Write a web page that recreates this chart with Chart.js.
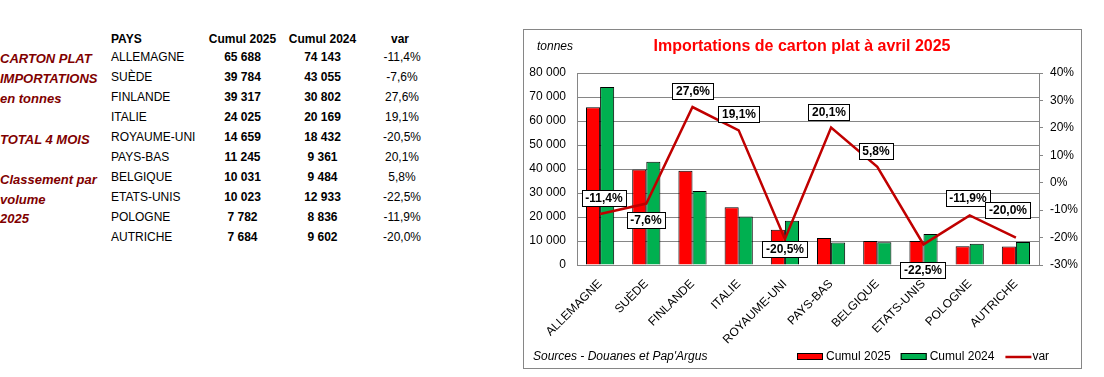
<!DOCTYPE html>
<html>
<head>
<meta charset="utf-8">
<script src="https://cdn.jsdelivr.net/npm/chart.js@4"></script>
<style>
  body { margin: 0; background: #fff; font-family: 'Liberation Sans', Arial, sans-serif; }
  #page { position: relative; width: 1104px; height: 377px; overflow: hidden; }
  .cell { position: absolute; height: 20px; line-height: 20px; font-size: 12px; color: #000; white-space: nowrap; }
  .side { position: absolute; left: 0; height: 20px; line-height: 20px; font-size: 13px; font-weight: bold; font-style: italic; color: #800000; white-space: nowrap; }
  #frame { position: absolute; left: 523px; top: 29px; width: 559px; height: 340px; box-sizing: border-box; border: 1px solid #868686; }
  #chartBox { position: absolute; left: 524px; top: 30px; width: 556px; height: 338px; }
</style>
</head>
<body>
<div id="page">
  <div id="frame"></div>
  <div id="chartBox"><canvas id="importChart" width="556" height="338"></canvas></div>
</div>
<script>
// data
const pays = ['ALLEMAGNE', 'SUÈDE', 'FINLANDE', 'ITALIE', 'ROYAUME-UNI', 'PAYS-BAS', 'BELGIQUE', 'ETATS-UNIS', 'POLOGNE', 'AUTRICHE'];
const cumul2025 = [65688, 39784, 39317, 24025, 14659, 11245, 10031, 10023, 7782, 7684];
const cumul2024 = [74143, 43055, 30802, 20169, 18432, 9361, 9484, 12933, 8836, 9602];
const variation = [-11.4, -7.6, 27.6, 19.1, -20.5, 20.1, 5.8, -22.5, -11.9, -20.0];
const sideNotes = [
  ['CARTON PLAT', 59], ['IMPORTATIONS', 79], ['en tonnes', 99],
  ['TOTAL 4 MOIS', 140], ['Classement par', 180], ['volume', 200], ['2025', 219]
];

// where each var label box sits relative to its point (px)
const labelShift = [[4, -16], [0, 16], [0, -16], [0, -16], [0, 10], [-2, -16], [-1, -16], [-1, 26], [-2, -17], [-8, -28]];

const FONT = "'Liberation Sans', Arial, sans-serif";

function fmtNum(n) {
  return String(n).replace(/\B(?=(\d{3})+(?!\d))/g, ' ');
}
function fmtPct(v) {
  return v.toFixed(1).replace('.', ',') + '%';
}

// left table
const page = document.getElementById('page');
function addCell(text, x, yMid, align, bold) {
  let d = document.createElement('div');
  d.className = 'cell';
  d.textContent = text;
  d.style.top = (yMid - 10) + 'px';
  if (bold) d.style.fontWeight = 'bold';
  if (align === 'left') {
    d.style.left = x + 'px';
  } else {
    d.style.left = (x - 60) + 'px';
    d.style.width = '120px';
    d.style.textAlign = 'center';
  }
  page.appendChild(d);
}
addCell('PAYS', 111, 39, 'left', true);
addCell('Cumul 2025', 242.5, 39, 'center', true);
addCell('Cumul 2024', 322.5, 39, 'center', true);
addCell('var', 400, 39, 'center', true);
pays.forEach((p, i) => {
  let y = 56.5 + i * 20;
  addCell(p, 111, y, 'left', false);
  addCell(fmtNum(cumul2025[i]), 242.5, y, 'center', true);
  addCell(fmtNum(cumul2024[i]), 322.5, y, 'center', true);
  addCell(fmtPct(variation[i]), 402, y, 'center', false);
});
sideNotes.forEach(([t, y]) => {
  let d = document.createElement('div');
  d.className = 'side';
  d.textContent = t;
  d.style.top = (y - 10) + 'px';
  page.appendChild(d);
});

// texts, labels and legend drawn on the canvas
const decorPlugin = {
  id: 'decor',
  afterDatasetsDraw(chart) {
    const ctx = chart.ctx;
    const meta = chart.getDatasetMeta(2);
    ctx.save();
    ctx.font = 'bold 12px ' + FONT;
    ctx.textAlign = 'center';
    ctx.textBaseline = 'middle';
    meta.data.forEach((pt, i) => {
      const txt = fmtPct(variation[i]);
      const cx = Math.round(pt.x + labelShift[i][0]);
      const cy = Math.round(pt.y + labelShift[i][1]);
      const w = Math.round(ctx.measureText(txt).width) + 8;
      const h = 17;
      const x0 = Math.round(cx - w / 2), y0 = Math.round(cy - h / 2);
      ctx.fillStyle = '#fff';
      ctx.fillRect(x0, y0, w, h);
      ctx.strokeStyle = '#000';
      ctx.lineWidth = 1;
      ctx.strokeRect(x0 + 0.5, y0 + 0.5, w - 1, h - 1);
      ctx.fillStyle = '#000';
      ctx.fillText(txt, cx, cy + 1);
    });
    ctx.restore();
  },
  afterDraw(chart) {
    const ctx = chart.ctx;
    ctx.save();
    ctx.textBaseline = 'middle';
    // title
    ctx.font = 'bold 16px ' + FONT;
    ctx.fillStyle = '#ff0000';
    ctx.textAlign = 'center';
    ctx.fillText('Importations de carton plat à avril 2025', 278, 17);
    // unit + source
    ctx.font = 'italic 12px ' + FONT;
    ctx.fillStyle = '#000';
    ctx.textAlign = 'left';
    ctx.fillText('tonnes', 13, 17);
    ctx.fillText("Sources - Douanes et Pap'Argus", 9, 327);
    // legend
    ctx.font = '12px ' + FONT;
    let x = 273;
    const ly = 327;
    chart.data.datasets.forEach((ds) => {
      if (ds.type === 'line') {
        ctx.strokeStyle = ds.borderColor;
        ctx.lineWidth = 2.5;
        ctx.beginPath();
        ctx.moveTo(x + 1, ly);
        ctx.lineTo(x + 27, ly);
        ctx.stroke();
        x += 28;
      } else {
        ctx.fillStyle = ds.backgroundColor;
        ctx.fillRect(x, ly - 4, 26, 7);
        ctx.strokeStyle = '#000';
        ctx.lineWidth = 1;
        ctx.strokeRect(x + 0.5, ly - 3.5, 25, 6);
        x += 29;
      }
      ctx.fillStyle = '#000';
      ctx.fillText(ds.label, x, ly);
      x += ctx.measureText(ds.label).width + 10;
    });
    ctx.restore();
  }
};

Chart.defaults.font.family = FONT;
Chart.defaults.font.size = 12;
Chart.defaults.color = '#000';

let importChart = new Chart(document.getElementById('importChart').getContext('2d'), {
  type: 'bar',
  data: {
    labels: pays,
    datasets: [
      {
        label: 'Cumul 2025',
        data: cumul2025,
        backgroundColor: '#ff0000',
        borderColor: '#000',
        borderWidth: 1,
        barPercentage: 1,
        categoryPercentage: 0.61,
        yAxisID: 'y',
        order: 2
      },
      {
        label: 'Cumul 2024',
        data: cumul2024,
        backgroundColor: '#00b050',
        borderColor: '#000',
        borderWidth: 1,
        barPercentage: 1,
        categoryPercentage: 0.61,
        yAxisID: 'y',
        order: 2
      },
      {
        type: 'line',
        label: 'var',
        data: variation,
        borderColor: '#c00000',
        backgroundColor: '#c00000',
        borderWidth: 2.5,
        pointRadius: 0,
        tension: 0,
        fill: false,
        yAxisID: 'y1',
        order: 1
      }
    ]
  },
  options: {
    responsive: false,
    animation: false,
    devicePixelRatio: 1,
    layout: { padding: { top: 43, left: 0, right: 0, bottom: 0 } },
    plugins: {
      legend: { display: false },
      title: { display: false },
      tooltip: { enabled: false }
    },
    scales: {
      x: {
        offset: true,
        grid: { display: false },
        border: { display: true, color: '#868686' },
        ticks: { autoSkip: false, maxRotation: 45, minRotation: 45, padding: 4 },
        afterFit(s) { s.height = 103; }
      },
      y: {
        position: 'left',
        min: 0,
        max: 80000,
        ticks: { stepSize: 10000, padding: 11, callback: (v) => fmtNum(v) },
        grid: { color: '#868686', drawTicks: false },
        border: { color: '#868686' },
        afterFit(s) { s.width = 53; }
      },
      y1: {
        position: 'right',
        min: -30,
        max: 40,
        ticks: { stepSize: 10, padding: 7, callback: (v) => v + '%' },
        grid: { drawOnChartArea: false, drawTicks: true, tickLength: 4, color: '#868686' },
        border: { color: '#868686' },
        afterFit(s) { s.width = 41; }
      }
    }
  },
  plugins: [decorPlugin]
});
</script>
</body>
</html>
